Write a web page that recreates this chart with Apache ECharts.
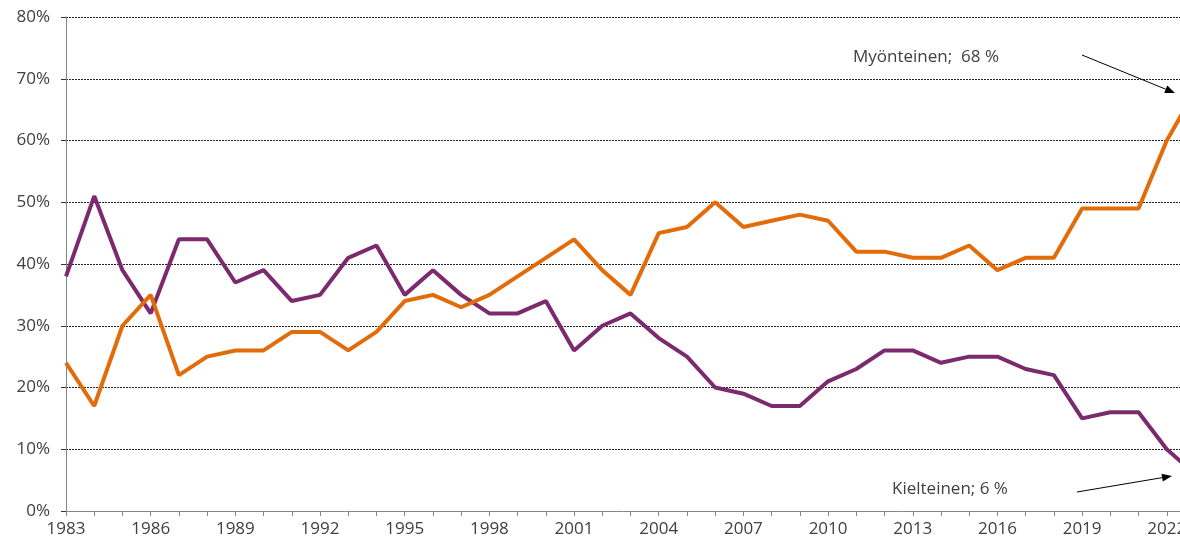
<!DOCTYPE html>
<html>
<head>
<meta charset="utf-8">
<script src="https://cdn.jsdelivr.net/npm/echarts@6/dist/echarts.min.js"></script>
<style>
html,body{margin:0;padding:0;background:#fff;}
#main{width:1180px;height:547px;}
</style>
</head>
<body>
<div id="main"></div>
<script>
var years = [];
for (var y = 1983; y <= 2023; y++) years.push(String(y));

// myönteinen (orange) and kielteinen (purple), %
var myonteinen = [24,17,30,35,22,25,26,26,29,29,26,29,34,35,33,35,38,41,44,39,35,45,46,50,46,47,48,47,42,42,41,41,43,39,41,41,49,49,49,60,68];
var kielteinen = [38,51,39,32,44,44,37,39,34,35,41,43,35,39,35,32,32,34,26,30,32,28,25,20,19,17,17,21,23,26,26,24,25,25,23,22,15,16,16,10,6];

var yTicks = [0,10,20,30,40,50,60,70,80];

var txt = '#404040';
var font = '"Open Sans", sans-serif';

var myChart = echarts.init(document.getElementById('main'));

// annotation arrows
function arrow(x1, y1, x2, y2) {
    var dx = x2 - x1, dy = y2 - y1;
    var l = Math.sqrt(dx*dx + dy*dy);
    var ux = dx / l, uy = dy / l;
    var bx = x2 - ux*10, by = y2 - uy*10;
    var px = -uy*4, py = ux*4;
    return [
        {type:'line', shape:{x1:x1, y1:y1, x2:bx, y2:by}, style:{stroke:'#000', lineWidth:1}},
        {type:'polygon', shape:{points:[[x2,y2],[bx+px,by+py],[bx-px,by-py]]}, style:{fill:'#000'}}
    ];
}

var graphics = [
    {type:'text', left:853, top:49, style:{text:'Myönteinen;  68 %', fill:txt, font:'17px ' + font}},
    {type:'text', left:892, top:481, style:{text:'Kielteinen; 6 %', fill:txt, font:'17px ' + font}}
].concat(arrow(1082, 55, 1175, 93)).concat(arrow(1077, 492, 1172, 476));

option = {
    animation: false,
    grid: {left: 66, top: 17, bottom: 36, right: -15, outerBoundsMode: 'none'},
    xAxis: {
        type: 'category',
        data: years,
        boundaryGap: false,
        axisLine: {lineStyle: {color: '#868686', width: 1}},
        axisTick: {show: true, interval: 0, length: 5, inside: false, lineStyle: {color: '#868686'}},
        axisLabel: {interval: 2, color: txt, fontSize: 17, fontFamily: font, margin: 10},
        splitLine: {show: false}
    },
    yAxis: {
        type: 'value',
        min: 0, max: 80, interval: 10,
        axisLine: {show: true, lineStyle: {color: '#868686', width: 1}},
        axisTick: {show: true, length: 5, lineStyle: {color: '#333'}},
        axisLabel: {
            color: txt, fontSize: 17, fontFamily: font, margin: 16,
            formatter: function (v) { return yTicks.indexOf(v) >= 0 ? v + '%' : ''; }
        },
        splitLine: {show: true, lineStyle: {color: '#222', width: 1, type: [2, 1]}}
    },
    series: [
        {
            name: 'Kielteinen', type: 'line', data: kielteinen,
            symbol: 'none', lineStyle: {color: '#7b2a6e', width: 4}, itemStyle: {color: '#7b2a6e'}
        },
        {
            name: 'Myönteinen', type: 'line', data: myonteinen,
            symbol: 'none', lineStyle: {color: '#e36c0a', width: 4}, itemStyle: {color: '#e36c0a'}
        }
    ],
    graphic: graphics
};

myChart.setOption(option);
</script>
</body>
</html>
